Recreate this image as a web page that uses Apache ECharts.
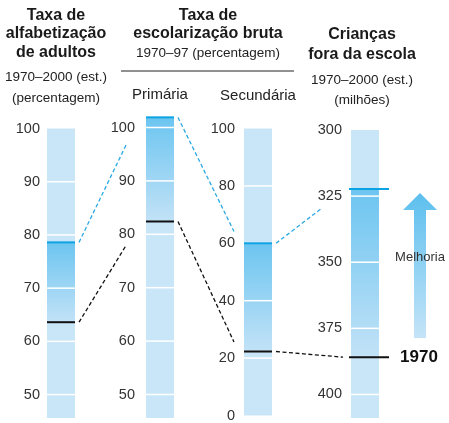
<!DOCTYPE html>
<html>
<head>
<meta charset="utf-8">
<script src="https://cdn.jsdelivr.net/npm/echarts@6/dist/echarts.min.js"></script>
<style>
  html, body { margin: 0; padding: 0; background: #fff; }
  #main { width: 449px; height: 423px; }
</style>
</head>
<body>
<div id="main"></div>
<script>
// valores: [1970, último ano]
const columnNames = ['', 'Primária', 'Secundária', ''];
const literacy = [63.6, 78.6];        // alfabetização de adultos, %
const primary = [82.4, 101.9];        // escolarização primária, %
const secondary = [22.3, 60];         // escolarização secundária, %
const outOfSchool = [385.9, 322.3];   // crianças fora da escola, milhões

// extensão de cada coluna, rótulos e marcas de escala
const bgRanges = [[45.6, 100], [45.6, 100], [0, 100], [300, 408.9]];
const tickLabels = [
  [50, 60, 70, 80, 90, 100],
  [50, 60, 70, 80, 90, 100],
  [0, 20, 40, 60, 80, 100],
  [300, 325, 350, 375, 400]
];
const whiteTicks = [[50, 60, 70, 80, 90], [50, 60, 70, 80, 90, 100], [20, 40, 60, 80], [325, 350, 375, 400]];

// linhas tracejadas: [coluna de, valor, coluna para, valor, cor]
const connectors = [
  [0, 78.6, 1, 96.7, 'blue'],
  [0, 63.6, 1, 77.9, 'black'],
  [1, 101.9, 2, 64.1, 'blue'],
  [1, 82.4, 2, 25.6, 'black'],
  [2, 60, 3, 329.5, 'blue'],
  [2, 22.3, 3, 385.9, 'black']
];
const connectorEndGap = [20, 20, 10, 10, 29, 8];

const FONT = 'Liberation Sans, Arial, sans-serif';
const BLUE = '#0ba3e3';
const BG = '#c9e6f9';

const grids = [
  {left: 47, top: 128.5, width: 28, height: 289.5},
  {left: 146, top: 127.5, width: 28, height: 290.5},
  {left: 244, top: 128.5, width: 28, height: 288.5},
  {left: 351, top: 130, width: 28, height: 288}
];
const labelMargin = [7, 11, 9, 9];
const lineExt = [[0, 0], [0, 0], [0, 0], [2, 10]];
const allValues = [literacy, primary, secondary, outOfSchool];

function columnSeries(i) {
  return {
    type: 'custom',
    xAxisIndex: i,
    yAxisIndex: i,
    clip: false,
    silent: true,
    data: [[0, allValues[i][0], allValues[i][1]]],
    renderItem: function (params, api) {
      const cs = params.coordSys;
      const y = v => api.coord([0, v])[1];
      const v70 = api.value(1), vNow = api.value(2);
      const b = bgRanges[i];
      const children = [];
      const by0 = Math.min(y(b[0]), y(b[1])), by1 = Math.max(y(b[0]), y(b[1]));
      children.push({type: 'rect', shape: {x: cs.x, y: by0, width: cs.width, height: by1 - by0}, style: {fill: BG}});
      const fy0 = Math.min(y(v70), y(vNow)), fy1 = Math.max(y(v70), y(vNow));
      children.push({
        type: 'rect', shape: {x: cs.x, y: fy0, width: cs.width, height: fy1 - fy0},
        style: {fill: new echarts.graphic.LinearGradient(0, 0, 0, 1, [
          {offset: 0, color: '#6cc5f0'}, {offset: 1, color: '#c2e2f7'}])}
      });
      whiteTicks[i].forEach(function (t) {
        children.push({type: 'line', shape: {x1: cs.x, y1: y(t), x2: cs.x + cs.width, y2: y(t)},
          style: {stroke: '#fff', lineWidth: 1.5}});
      });
      const xl = cs.x - lineExt[i][0], xr = cs.x + cs.width + lineExt[i][1];
      children.push({type: 'line', shape: {x1: xl, y1: y(vNow), x2: xr, y2: y(vNow)}, style: {stroke: BLUE, lineWidth: 2}});
      children.push({type: 'line', shape: {x1: xl, y1: y(v70), x2: xr, y2: y(v70)}, style: {stroke: '#111', lineWidth: 2}});
      if (i === 3) {
        children.push({type: 'text', x: cs.x + cs.width + 40, y: y(v70),
          style: {text: '1970', font: 'bold 17px ' + FONT, fill: '#111', align: 'center', verticalAlign: 'middle'}});
      }
      return {type: 'group', children: children};
    }
  };
}

const chart = echarts.init(document.getElementById('main'));
const option = {
  animation: false,
  grid: grids,
  xAxis: grids.map(function (g, i) {
    return {
      type: 'category', gridIndex: i, position: 'top', data: [columnNames[i]],
      axisLine: {show: false}, axisTick: {show: false},
      axisLabel: {margin: 25, fontSize: 15, color: '#222', fontFamily: FONT}
    };
  }),
  yAxis: grids.map(function (g, i) {
    return {
      type: 'value', gridIndex: i, min: bgRanges[i][0], max: bgRanges[i][1],
      inverse: i === 3,
      splitLine: {show: false}, axisLine: {show: false}, axisTick: {show: false},
      axisLabel: {
        customValues: tickLabels[i],
        margin: labelMargin[i], fontSize: 14.5, color: '#333', fontFamily: FONT
      }
    };
  }),
  series: [columnSeries(0), columnSeries(1), columnSeries(2), columnSeries(3)]
};
chart.setOption(option);

// títulos, seta e linhas tracejadas
const graphics = [
  {type: 'text', x: 56, y: 6, style: {text: 'Taxa de\nalfabetização\nde adultos', font: 'bold 16px ' + FONT,
    lineHeight: 18.5, fill: '#1a1a1a', align: 'center', verticalAlign: 'top'}},
  {type: 'text', x: 56, y: 66.5, style: {text: '1970–2000 (est.)\n(percentagem)', font: '13.5px ' + FONT,
    lineHeight: 21, fill: '#222', align: 'center', verticalAlign: 'top'}},
  {type: 'text', x: 208, y: 6, style: {text: 'Taxa de\nescolarização bruta', font: 'bold 16px ' + FONT,
    lineHeight: 18.5, fill: '#1a1a1a', align: 'center', verticalAlign: 'top'}},
  {type: 'text', x: 208, y: 53, style: {text: '1970–97 (percentagem)', font: '13.5px ' + FONT,
    fill: '#222', align: 'center', verticalAlign: 'middle'}},
  {type: 'line', shape: {x1: 121, y1: 71, x2: 294, y2: 71}, style: {stroke: '#222', lineWidth: 1.2}},
  {type: 'text', x: 362, y: 25, style: {text: 'Crianças\nfora da escola', font: 'bold 16px ' + FONT,
    lineHeight: 20, fill: '#1a1a1a', align: 'center', verticalAlign: 'top'}},
  {type: 'text', x: 362, y: 70, style: {text: '1970–2000 (est.)\n(milhões)', font: '13.5px ' + FONT,
    lineHeight: 20, fill: '#222', align: 'center', verticalAlign: 'top'}},
  {type: 'polygon', shape: {points: [[420, 193], [437, 210], [426, 210], [426, 338], [414, 338], [414, 210], [403, 210]]},
    style: {fill: new echarts.graphic.LinearGradient(0, 0, 0, 1, [
      {offset: 0, color: '#5cbfee'}, {offset: 1, color: '#c5e4f8'}])}},
  {type: 'text', x: 420, y: 257, style: {text: 'Melhoria', font: '13px ' + FONT, fill: '#333',
    align: 'center', verticalAlign: 'middle'}}
];

connectors.forEach(function (c, k) {
  const p1 = chart.convertToPixel({gridIndex: c[0]}, [0, c[1]]);
  const p2 = chart.convertToPixel({gridIndex: c[2]}, [0, c[3]]);
  const x1 = grids[c[0]].left + grids[c[0]].width + 4;
  const x2 = grids[c[2]].left - connectorEndGap[k];
  graphics.push({
    type: 'line', shape: {x1: x1, y1: p1[1], x2: x2, y2: p2[1]},
    style: {stroke: c[4] === 'blue' ? '#2aa9e4' : '#111', lineWidth: 1.3, lineDash: [4, 2.5]}
  });
});

chart.setOption({graphic: graphics});
</script>
</body>
</html>
